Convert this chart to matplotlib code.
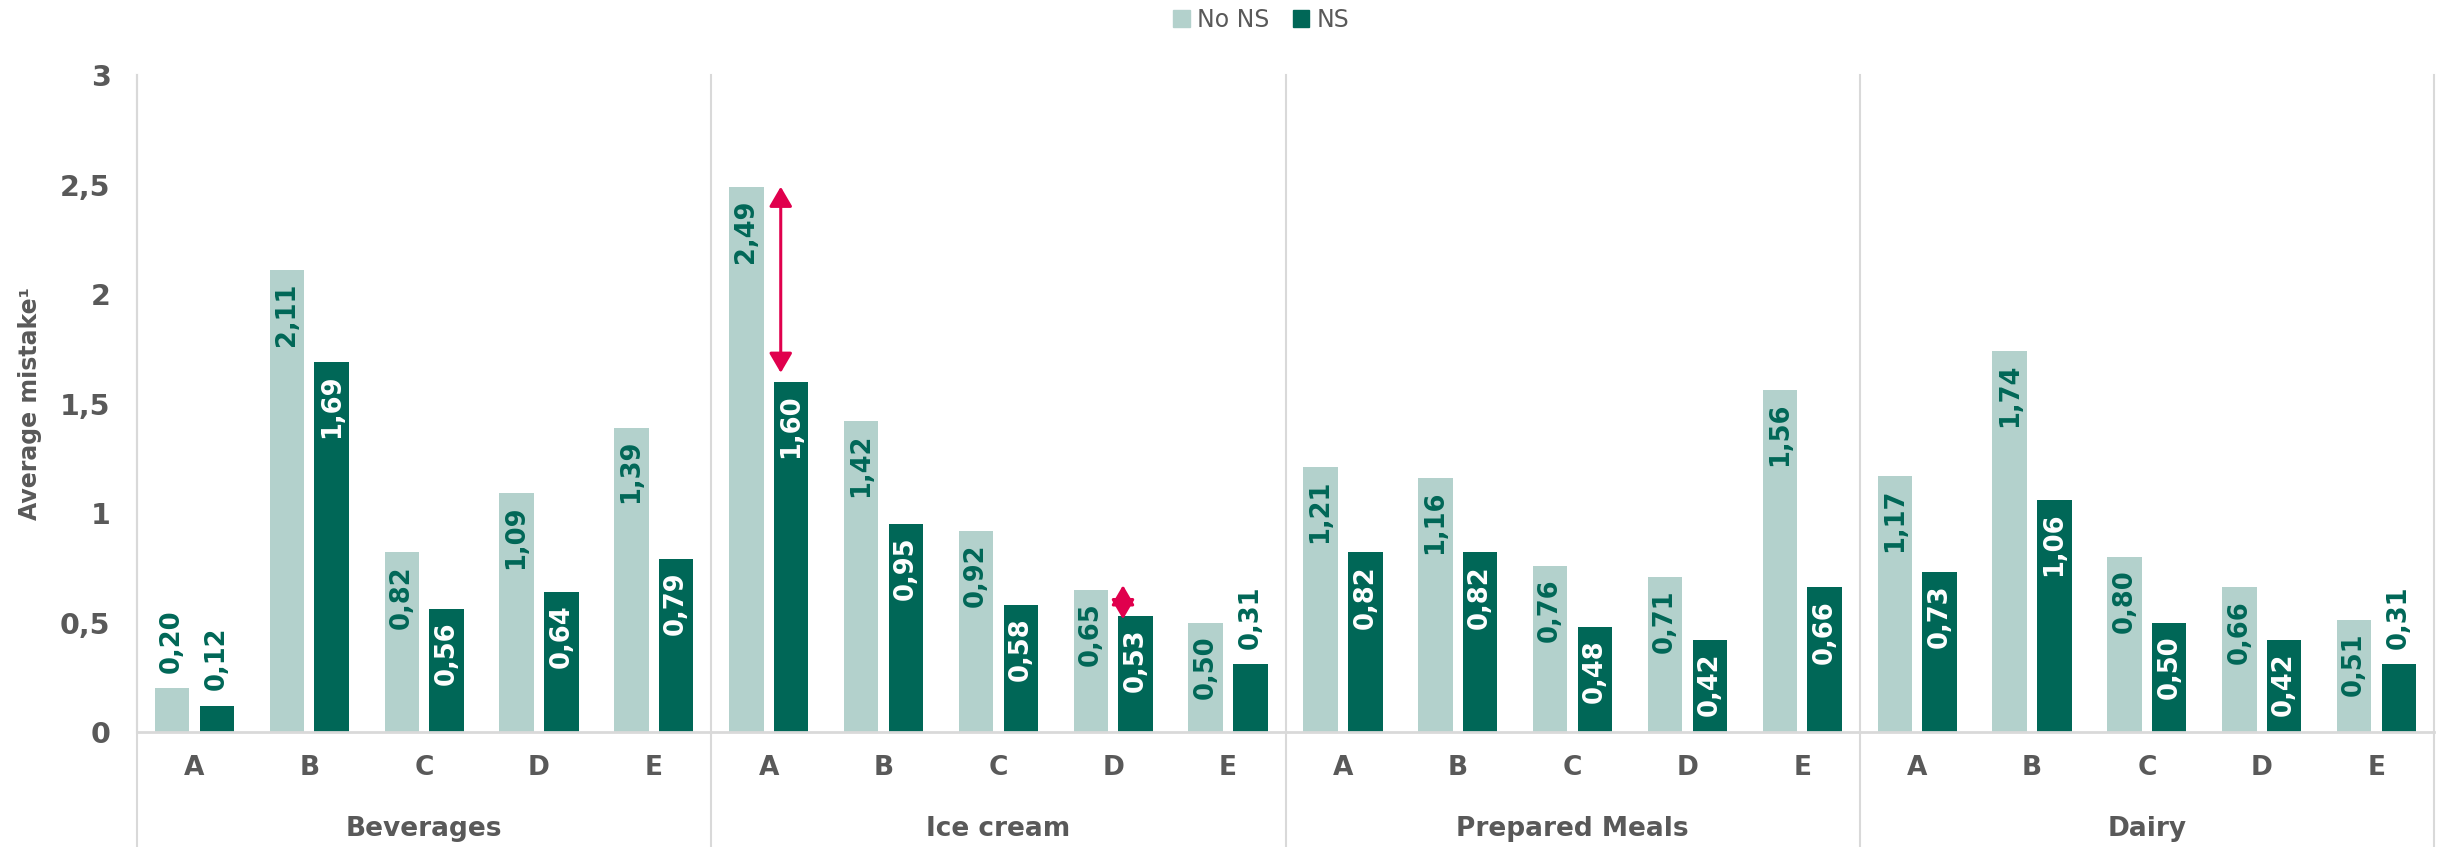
import matplotlib
matplotlib.use("Agg")
import matplotlib.pyplot as plt
from matplotlib.patches import Patch
from matplotlib.transforms import blended_transform_factory

groups = ["Beverages", "Ice cream", "Prepared Meals", "Dairy"]
letters = ["A", "B", "C", "D", "E"]

no_ns = [0.20, 2.11, 0.82, 1.09, 1.39,
         2.49, 1.42, 0.92, 0.65, 0.50,
         1.21, 1.16, 0.76, 0.71, 1.56,
         1.17, 1.74, 0.80, 0.66, 0.51]
ns = [0.12, 1.69, 0.56, 0.64, 0.79,
      1.60, 0.95, 0.58, 0.53, 0.31,
      0.82, 0.82, 0.48, 0.42, 0.66,
      0.73, 1.06, 0.50, 0.42, 0.31]

yticks = [0, 0.5, 1, 1.5, 2, 2.5, 3]

light = "#b3d1cc"
dark = "#006757"
grey = "#595959"
line_grey = "#d9d9d9"
red = "#e0004d"

plt.rcParams["font.family"] = ["DejaVu Sans"]

fig = plt.figure(figsize=(24.43, 8.47), dpi=100)
ax = fig.add_axes([137 / 2443, 1 - 732 / 847, 2297 / 2443, 657 / 847])

n = len(no_ns)
x = list(range(n))
w = 0.3
off = 0.195
xl = [i - off for i in x]
xd = [i + off for i in x]
ax.bar(xl, no_ns, width=w, color=light, zorder=3)
ax.bar(xd, ns, width=w, color=dark, zorder=3)

def fmt(v):
    return f"{v:.2f}".replace(".", ",")

# value labels: inside the top of the bar, or just above it when the bar is short
for xs, vals, inner in ((xl, no_ns, dark), (xd, ns, "white")):
    for xi, v in zip(xs, vals):
        if v >= 0.4:
            ax.annotate(fmt(v), (xi, v), xytext=(0, -9), textcoords="offset points",
                        rotation=90, ha="center", va="top", fontsize=18.5,
                        fontweight="bold", color=inner, zorder=5)
        else:
            ax.annotate(fmt(v), (xi, v), xytext=(0, 11), textcoords="offset points",
                        rotation=90, ha="center", va="bottom", fontsize=18.5,
                        fontweight="bold", color=dark, zorder=5)

# gap arrows on Ice cream A and D
for i, dx, lo, hi in ((5, -0.09, ns[5] + 0.04, no_ns[5]), (8, -0.11, ns[8] - 0.015, no_ns[8] + 0.02)):
    ax.annotate("", xy=(xd[i] + dx, hi), xytext=(xd[i] + dx, lo),
                arrowprops=dict(arrowstyle="<|-|>,head_length=0.6,head_width=0.35",
                                mutation_scale=20, color=red, lw=2.2,
                                shrinkA=0, shrinkB=0), zorder=6)

ax.set_xlim(-0.5, n - 0.5)
ax.set_ylim(0, 3)
ax.set_yticks(yticks)
ax.set_yticklabels([f"{t:g}".replace(".", ",") for t in yticks])
ax.tick_params(axis="y", length=0, pad=19, labelsize=20.5, labelcolor=grey)
for lab in ax.get_yticklabels():
    lab.set_fontweight("bold")
ax.set_xticks([])

for s in ("top", "right"):
    ax.spines[s].set_visible(False)
ax.spines["left"].set_color(line_grey)
ax.spines["left"].set_linewidth(1.5)
ax.spines["bottom"].set_color(line_grey)
ax.spines["bottom"].set_linewidth(2)
ax.spines["bottom"].set_zorder(4)

ax.set_ylabel("Average mistake\u00b9", fontsize=17, fontweight="bold", color=grey)
ax.yaxis.set_label_coords(-95 / 2297, 0.5)

trans = blended_transform_factory(ax.transData, ax.transAxes)
below = -(847 - 732) / 657
for k in range(len(groups) + 1):
    xs = k * 5 - 0.5
    ax.plot([xs, xs], [below, 1], transform=trans, color=line_grey, lw=1.5,
            clip_on=False, zorder=1)

for i in x:
    ax.text(i, -36 / 657, letters[i % 5], transform=trans, ha="center", va="center",
            fontsize=19, fontweight="bold", color=grey)
for k, g in enumerate(groups):
    ax.text(k * 5 + 2, -97 / 657, g, transform=trans, ha="center", va="center",
            fontsize=19, fontweight="bold", color=grey)

handles = [Patch(color=light, label="No NS"), Patch(color=dark, label="NS")]
fig.legend(handles=handles, loc="center", bbox_to_anchor=(1261 / 2443, 1 - 20 / 847),
           ncol=2, frameon=False, fontsize=17, labelcolor=grey, handlelength=0.7,
           handleheight=0.7, handletextpad=0.3, columnspacing=1.0)

fig.savefig("out.png", dpi=100)
